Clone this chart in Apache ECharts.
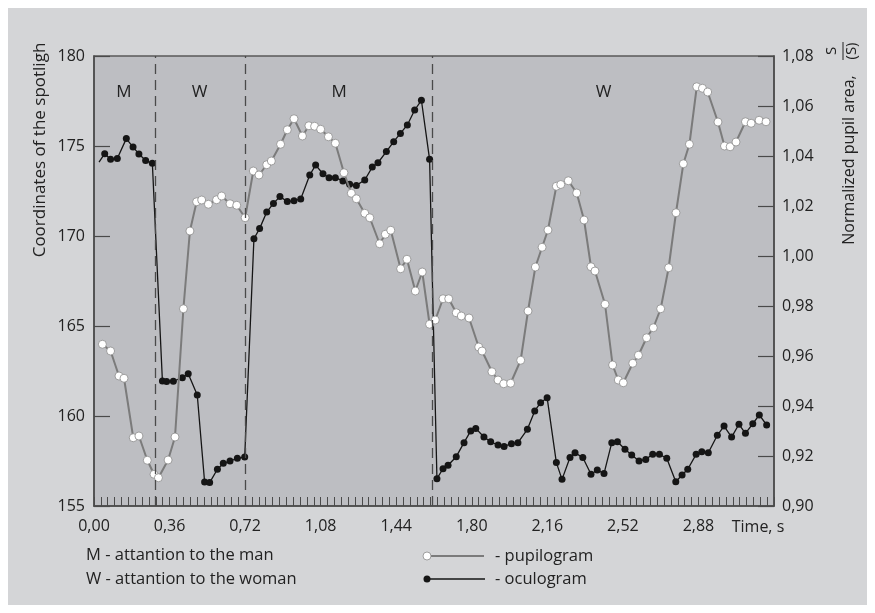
<!DOCTYPE html>
<html>
<head>
<meta charset="utf-8">
<script src="https://cdn.jsdelivr.net/npm/echarts@6/dist/echarts.min.js"></script>
<style>
  html, body { margin: 0; padding: 0; background: #fff; }
  #chart { width: 875px; height: 613px; }
</style>
</head>
<body>
<div id="chart"></div>
<script>
// time, s
const oculoT = [0.024,0.051,0.079,0.111,0.154,0.186,0.214,0.246,0.278,0.326,0.346,0.378,0.421,0.449,0.492,0.527,0.551,0.588,0.616,0.648,0.683,0.718,0.762,0.789,0.823,0.855,0.886,0.921,0.953,0.985,1.028,1.056,1.091,1.120,
  1.150,1.186,1.218,1.250,1.290,1.326,1.353,1.393,1.428,1.460,1.493,1.528,1.560,1.599,1.634,1.663,1.687,1.726,1.763,1.795,1.819,1.858,1.890,1.925,1.954,1.989,2.020,2.065,2.100,2.128,2.159,2.203,2.230,
  2.268,2.292,2.329,2.368,2.398,2.430,2.467,2.494,2.530,2.562,2.597,2.629,2.662,2.694,2.729,2.772,2.802,2.829,2.869,2.896,2.927,2.970,3.002,3.038,3.073,3.104,3.139,3.170,3.205];
// coordinates of the spotlight (left axis)
const oculoV = [174.11,174.57,174.26,174.30,175.41,174.94,174.56,174.19,174.04,161.94,161.91,161.93,162.13,162.35,161.17,156.33,156.30,157.04,157.37,157.50,157.65,157.72,169.85,170.41,171.33,171.81,172.19,171.91,171.96,172.06,173.39,173.94,173.46,173.24,
  173.24,173.06,172.87,172.81,173.11,173.83,174.07,174.69,175.24,175.70,176.17,177.00,177.54,174.26,156.52,157.07,157.26,157.74,158.52,159.17,159.31,158.83,158.57,158.39,158.31,158.46,158.52,159.26,160.28,160.74,161.02,157.41,156.48,
  157.69,157.96,157.69,156.76,157.00,156.80,158.52,158.57,158.15,157.83,157.50,157.59,157.87,157.87,157.65,156.35,156.72,157.04,157.87,158.02,157.96,158.93,159.44,158.83,159.54,159.04,159.57,160.06,159.50];

const pupilT = [0.040,0.079,0.119,0.143,0.187,0.214,0.254,0.286,0.307,0.353,0.386,0.426,0.457,0.489,0.513,0.545,0.584,0.608,0.648,0.680,0.720,0.759,0.786,0.823,0.845,0.889,0.921,0.953,0.993,1.024,1.051,1.080,1.117,
  1.150,1.191,1.226,1.250,1.290,1.314,1.361,1.388,1.414,1.461,1.491,1.531,1.564,1.599,1.626,1.663,1.690,1.726,1.750,1.787,1.833,1.849,1.896,1.925,1.952,1.985,2.033,2.068,2.103,2.135,2.163,2.203,2.224,
  2.260,2.300,2.335,2.368,2.387,2.435,2.471,2.498,2.522,2.567,2.594,2.633,2.665,2.700,2.738,2.773,2.808,2.837,2.872,2.899,2.924,2.973,3.004,3.031,3.059,3.104,3.131,3.169,3.202];
// normalized pupil area (right axis)
const pupilV = [0.9647,0.9620,0.9520,0.9511,0.9273,0.9280,0.9183,0.9127,0.9113,0.9184,0.9276,0.9789,1.0100,1.0217,1.0224,1.0207,1.0225,1.0240,1.0209,1.0203,1.0153,1.0340,1.0324,1.0365,1.0380,1.0447,1.0505,1.0549,1.0480,1.0521,1.0519,1.0507,1.0477,
  1.0451,1.0333,1.0251,1.0229,1.0171,1.0153,1.0049,1.0087,1.0103,0.9949,0.9987,0.9860,0.9936,0.9727,0.9744,0.9829,0.9829,0.9773,0.9760,0.9752,0.9636,0.9620,0.9537,0.9504,0.9489,0.9491,0.9583,0.9780,0.9956,1.0035,1.0104,1.0279,1.0286,
  1.0301,1.0252,1.0144,0.9957,0.9940,0.9807,0.9564,0.9504,0.9493,0.9571,0.9603,0.9673,0.9713,0.9789,0.9953,1.0173,1.0369,1.0447,1.0677,1.0671,1.0656,1.0536,1.0440,1.0437,1.0456,1.0537,1.0531,1.0543,1.0537];

// attention periods
const regionEdges = [0, 0.286, 0.72, 1.615, 3.24];
const regionLabels = ['M', 'W', 'M', 'W'];

const FONT = '"Open Sans", sans-serif';
const TXT = '#222222';

const zip = (a, b) => a.map((v, i) => [v, b[i]]);
const comma = d => v => v.toFixed(d).replace('.', ',');

let chart = echarts.init(document.getElementById('chart'));

chart.setOption({
  backgroundColor: '#ffffff',
  animation: false,
  textStyle: { fontFamily: FONT },
  grid: {
    left: 94, top: 56, right: 101, bottom: 107,
    show: true, backgroundColor: '#bdbec2', borderColor: '#5a5a5a', borderWidth: 1.5
  },
  xAxis: {
    type: 'value', min: 0, max: 3.24, interval: 0.36,
    axisLine: { lineStyle: { color: '#4a4a4a', width: 1.5 } },
    axisTick: { show: true, inside: true, length: 9, lineStyle: { color: '#4a4a4a' } },
    minorTick: { show: true, splitNumber: 11, length: 9, lineStyle: { color: '#4a4a4a' } },
    splitLine: { show: false },
    axisLabel: {
      margin: 12, fontSize: 16, color: TXT, fontFamily: FONT,
      formatter: v => v > 3.2 ? '' : comma(2)(v)
    }
  },
  yAxis: [{
    type: 'value', min: 155, max: 180, interval: 5, position: 'left',
    axisLine: { show: true, lineStyle: { color: '#4a4a4a', width: 1.5 } },
    axisTick: { show: true, inside: true, length: 16, lineStyle: { color: '#4a4a4a', width: 1.2 } },
    splitLine: { show: false },
    axisLabel: { margin: 9, fontSize: 16, color: TXT, fontFamily: FONT }
  }, {
    type: 'value', min: 0.90, max: 1.08, interval: 0.02, position: 'right',
    axisLine: { show: true, lineStyle: { color: '#4a4a4a', width: 1.5 } },
    axisTick: { show: true, inside: true, length: 16, lineStyle: { color: '#4a4a4a', width: 1.2 } },
    splitLine: { show: false },
    axisLabel: { margin: 8, fontSize: 16, color: TXT, fontFamily: FONT, formatter: comma(2) }
  }],
  series: [{
    name: 'oculogram', type: 'line', yAxisIndex: 0,
    data: zip(oculoT, oculoV),
    symbol: (v, p) => p.dataIndex === 0 ? 'none' : 'circle',
    symbolSize: 7,
    lineStyle: { color: '#151515', width: 1.3 },
    itemStyle: { color: '#151515' },
    z: 3,
    markLine: {
      silent: true, symbol: 'none',
      label: { show: false },
      lineStyle: { color: '#4a4a4a', width: 1.3, type: [10, 6] },
      data: regionEdges.slice(1, -1).map(x => ({ xAxis: x }))
    },
    markArea: {
      silent: true,
      itemStyle: { color: 'transparent' },
      label: { show: true, position: 'insideTop', distance: 28, fontSize: 17, color: TXT, fontFamily: FONT },
      data: regionLabels.map((n, i) => [{ name: n, xAxis: regionEdges[i] }, { xAxis: regionEdges[i + 1] }])
    }
  }, {
    name: 'pupilogram', type: 'line', yAxisIndex: 1,
    data: zip(pupilT, pupilV),
    symbol: 'circle', symbolSize: 8,
    lineStyle: { color: '#7b7b7b', width: 2 },
    itemStyle: { color: '#ffffff', borderColor: '#8a8a8a', borderWidth: 0.8 },
    z: 4
  }],
  graphic: [
    { type: 'rect', z: -10, shape: { x: 8, y: 8, width: 859, height: 597 }, style: { fill: '#d4d5d7' } },
    { type: 'text', x: 40, y: 150, rotation: Math.PI / 2,
      style: { text: 'Coordinates of the spotligh', fontSize: 17, fontFamily: FONT, fill: TXT, align: 'center', verticalAlign: 'middle' } },
    { type: 'text', x: 849, y: 160, rotation: Math.PI / 2,
      style: { text: 'Normalized pupil area,', fontSize: 16, fontFamily: FONT, fill: TXT, align: 'center', verticalAlign: 'middle' } },
    { type: 'group', x: 843, y: 51, rotation: Math.PI / 2, children: [
      { type: 'text', x: 0, y: -4, style: { text: 'S', fontSize: 15, fontFamily: FONT, fill: TXT, align: 'center', verticalAlign: 'bottom' } },
      { type: 'line', shape: { x1: -9, y1: 0, x2: 9, y2: 0 }, style: { stroke: TXT, lineWidth: 1 } },
      { type: 'text', x: 0, y: 1, style: { text: '(S)', fontSize: 15, fontFamily: FONT, fill: TXT, align: 'center', verticalAlign: 'top' } }
    ] },
    { type: 'text', x: 758, y: 527,
      style: { text: 'Time, s', fontSize: 16, fontFamily: FONT, fill: TXT, align: 'center', verticalAlign: 'middle' } },
    { type: 'text', x: 86, y: 555,
      style: { text: 'M - attantion to the man', fontSize: 16.5, fontFamily: FONT, fill: TXT, verticalAlign: 'middle' } },
    { type: 'text', x: 86, y: 579,
      style: { text: 'W - attantion to the woman', fontSize: 16.5, fontFamily: FONT, fill: TXT, verticalAlign: 'middle' } },
    { type: 'line', shape: { x1: 427, y1: 556, x2: 484, y2: 556 }, style: { stroke: '#7b7b7b', lineWidth: 2 } },
    { type: 'circle', shape: { cx: 427, cy: 556, r: 4 }, style: { fill: '#fff', stroke: '#8a8a8a', lineWidth: 0.8 } },
    { type: 'line', shape: { x1: 427, y1: 579, x2: 485, y2: 579 }, style: { stroke: '#151515', lineWidth: 1.3 } },
    { type: 'circle', shape: { cx: 427, cy: 579, r: 3.5 }, style: { fill: '#151515' } },
    { type: 'text', x: 495, y: 556,
      style: { text: '- pupilogram', fontSize: 16.5, fontFamily: FONT, fill: TXT, verticalAlign: 'middle' } },
    { type: 'text', x: 495, y: 579,
      style: { text: '- oculogram', fontSize: 16.5, fontFamily: FONT, fill: TXT, verticalAlign: 'middle' } }
  ]
});
</script>
</body>
</html>
